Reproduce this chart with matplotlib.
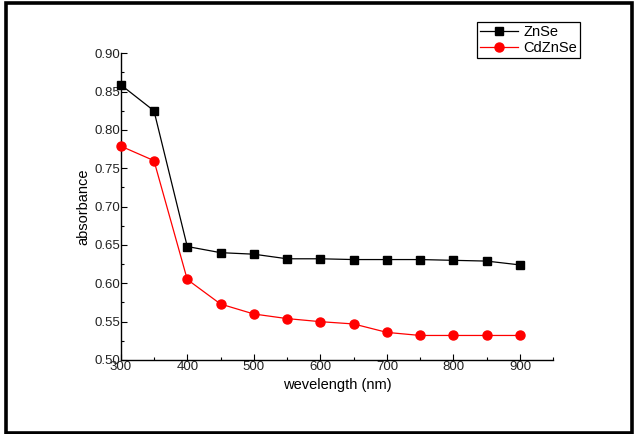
import matplotlib
matplotlib.use("Agg")
import matplotlib.pyplot as plt
from matplotlib.patches import Rectangle
from matplotlib.ticker import MultipleLocator

wavelength = [300, 350, 400, 450, 500, 550, 600, 650, 700, 750, 800, 850, 900]
znse = [0.859, 0.825, 0.648, 0.640, 0.638, 0.632, 0.632, 0.631, 0.631, 0.631, 0.630, 0.629, 0.624]
cdznse = [0.779, 0.760, 0.605, 0.573, 0.560, 0.554, 0.550, 0.547, 0.536, 0.532, 0.532, 0.532, 0.532]
xticks = [300, 400, 500, 600, 700, 800, 900]
yticks = [0.50, 0.55, 0.60, 0.65, 0.70, 0.75, 0.80, 0.85, 0.90]

plt.rcParams['font.family'] = ['Liberation Sans', 'DejaVu Sans']

W, H = 637, 434
fig = plt.figure(figsize=(W / 100, H / 100), dpi=100)

# outer frame
fig.patches.append(Rectangle((6.5 / W, 1 - 433 / H), (631.5 - 6.5) / W, (433 - 3) / H,
                             transform=fig.transFigure, fill=False, edgecolor='black',
                             linewidth=2.6, zorder=0))

ax = fig.add_axes([120.7 / W, 1 - 360 / H, (553.3 - 120.7) / W, (360 - 53.3) / H])
ax.plot(wavelength, znse, color='black', marker='s', markersize=5.5, linewidth=0.9,
        label='ZnSe', clip_on=False, zorder=3)
ax.plot(wavelength, cdznse, color='red', marker='o', markersize=6.5, linewidth=0.9,
        label='CdZnSe', clip_on=False, zorder=3)

ax.set_xlim(300, 950)
ax.set_ylim(0.50, 0.90)
ax.set_xticks(xticks)
ax.set_yticks(yticks)
ax.set_yticklabels([f"{v:.2f}" for v in yticks])
ax.xaxis.set_minor_locator(MultipleLocator(50))
ax.yaxis.set_minor_locator(MultipleLocator(0.025))
ax.tick_params(which='both', direction='in', labelsize=9.5, colors='black')
ax.tick_params(which='major', length=4, width=0.8)
ax.tick_params(which='minor', length=2.5, width=0.8)
ax.tick_params(axis='x', pad=1)
ax.tick_params(axis='y', pad=0)
for lab in ax.get_xticklabels() + ax.get_yticklabels():
    lab.set_color('#222222')

for s in ['top', 'right']:
    ax.spines[s].set_visible(False)
for s in ['left', 'bottom']:
    ax.spines[s].set_linewidth(1.0)

ax.set_xlabel('wevelength (nm)', fontsize=10.5, labelpad=3)
ax.set_ylabel('absorbance', fontsize=10.5, labelpad=3)

leg = fig.legend(loc='upper left', bbox_to_anchor=(476.7 / W, 1 - 22 / H),
                 fontsize=10.5, frameon=True, fancybox=False, edgecolor='black',
                 framealpha=1, borderpad=0.2, labelspacing=0.15, handlelength=2.6,
                 handletextpad=0.4, borderaxespad=0)
leg.get_frame().set_linewidth(0.9)

fig.savefig('out.png', dpi=100)
